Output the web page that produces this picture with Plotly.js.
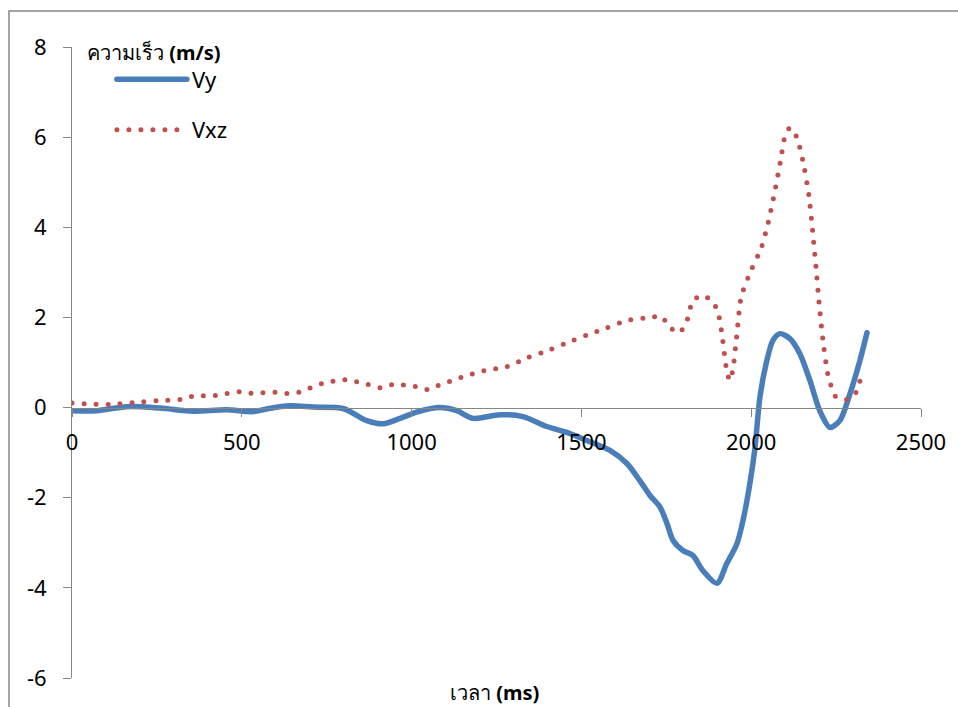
<!DOCTYPE html>
<html>
<head>
<meta charset="utf-8">
<script src="https://cdn.plot.ly/plotly-3.0.1.min.js"></script>
<style>
html, body { margin: 0; padding: 0; background: #fff; }
#chart { width: 958px; height: 707px; }
path.js-line { stroke-linecap: round; }
</style>
</head>
<body>
<div id="chart"></div>
<script>
// Vy series (time in ms, velocity in m/s)
const vyTime = [0, 73, 161, 259, 356, 455, 533, 573, 642, 710, 798, 868, 916, 966, 1015, 1083, 1133, 1181, 1260, 1328, 1398, 1457, 1516, 1584, 1634, 1672, 1702, 1731, 1752, 1770, 1799, 1828, 1858, 1899, 1928, 1958, 1976, 1996, 2011, 2026, 2046, 2064, 2085, 2114, 2143, 2173, 2202, 2232, 2261, 2291, 2320, 2341];
const vyValue = [-0.07, -0.07, 0.02, -0.01, -0.08, -0.05, -0.09, -0.03, 0.04, 0.01, -0.02, -0.29, -0.36, -0.24, -0.1, 0.0, -0.07, -0.24, -0.16, -0.2, -0.42, -0.55, -0.73, -0.95, -1.24, -1.62, -1.95, -2.2, -2.57, -2.95, -3.17, -3.28, -3.62, -3.9, -3.46, -3.02, -2.5, -1.69, -0.9, 0.25, 1.04, 1.49, 1.64, 1.53, 1.2, 0.6, -0.07, -0.44, -0.29, 0.31, 1.04, 1.66];

// Vxz series
const vxzTime = [0, 109, 179, 249, 320, 354, 423, 493, 527, 598, 633, 668, 736, 804, 872, 907, 942, 1010, 1045, 1078, 1146, 1213, 1281, 1343, 1410, 1475, 1520, 1569, 1634, 1704, 1737, 1757, 1787, 1808, 1828, 1855, 1884, 1902, 1914, 1928, 1937, 1946, 1958, 1970, 1993, 2030, 2050, 2067, 2087, 2099, 2114, 2134, 2152, 2170, 2191, 2200, 2211, 2226, 2249, 2282, 2308, 2329];
const vxzValue = [0.1, 0.07, 0.11, 0.15, 0.18, 0.25, 0.27, 0.35, 0.32, 0.34, 0.31, 0.34, 0.53, 0.62, 0.51, 0.44, 0.51, 0.47, 0.4, 0.49, 0.67, 0.82, 0.91, 1.11, 1.29, 1.49, 1.62, 1.75, 1.93, 2.0, 2.02, 1.8, 1.66, 1.86, 2.37, 2.49, 2.37, 2.13, 1.62, 0.82, 0.6, 0.84, 1.64, 2.44, 2.93, 3.55, 4.1, 4.7, 5.5, 6.01, 6.21, 6.0, 5.48, 4.7, 3.1, 2.31, 1.51, 0.73, 0.24, 0.18, 0.33, 0.84];

const seriesNames = ['Vy', 'Vxz'];
const xTicks = [0, 500, 1000, 1500, 2000, 2500];
const yTicks = [-6, -4, -2, 0, 2, 4, 6, 8];
const yTitle = 'ความเร็ว <b>(m/s)</b>';
const xTitle = 'เวลา <b>(ms)</b>';

const FONT = 'Noto Sans, Open Sans, DejaVu Sans, sans-serif';
const AXIS_COLOR = '#868686';

const traces = [
  {
    x: vyTime, y: vyValue, name: seriesNames[0], mode: 'lines', legendgroup: 'a',
    line: { color: '#4a7ebb', width: 5.5, shape: 'spline', smoothing: 0.8 }
  },
  {
    x: vxzTime, y: vxzValue, name: seriesNames[1], mode: 'lines', legendgroup: 'b',
    line: { color: '#c0504d', width: 5, dash: '0px,12px', shape: 'spline', smoothing: 0.6 }
  }
];

const layout = {
  width: 958, height: 707,
  margin: { l: 72, r: 37, t: 47, b: 29 },
  paper_bgcolor: '#ffffff', plot_bgcolor: 'rgba(0,0,0,0)',
  font: { family: FONT, size: 22, color: '#000' },
  showlegend: true,
  legend: {
    x: 0.047, y: 0.982, xanchor: 'left', yanchor: 'top',
    bgcolor: 'rgba(0,0,0,0)', itemwidth: 70, traceorder: 'grouped', tracegroupgap: 19,
    font: { family: FONT, size: 22, color: '#000' }
  },
  xaxis: {
    range: [0, 2500], tickvals: xTicks, ticktext: xTicks.map(String),
    showgrid: false, zeroline: false, showline: true, linecolor: AXIS_COLOR, linewidth: 1,
    ticks: 'outside', ticklen: 8, tickcolor: AXIS_COLOR, tickwidth: 1,
    anchor: 'free', position: 6 / 14, ticklabelstandoff: 7,
    tickfont: { family: FONT, size: 22, color: '#000' }
  },
  yaxis: {
    range: [-6, 8], tickvals: yTicks, ticktext: yTicks.map(String),
    showgrid: false, zeroline: false, showline: true, linecolor: AXIS_COLOR, linewidth: 1,
    ticks: 'outside', ticklen: 8, tickcolor: AXIS_COLOR, tickwidth: 1, ticklabelstandoff: 12,
    tickfont: { family: FONT, size: 22, color: '#000' }
  },
  annotations: [
    { text: yTitle, xref: 'paper', yref: 'paper', x: 13 / 849, y: (678 - 53) / 631,
      xanchor: 'left', yanchor: 'middle', showarrow: false, font: { family: FONT, size: 20, color: '#000' } },
    { text: xTitle, xref: 'paper', yref: 'paper', x: (494 - 72) / 849, y: (678 - 692) / 631,
      xanchor: 'center', yanchor: 'middle', showarrow: false, font: { family: FONT, size: 20, color: '#000' } }
  ],
  shapes: [
    { type: 'rect', xref: 'paper', yref: 'paper', x0: (9 - 72) / 849, x1: 1.2, y0: -0.2, y1: (678 - 11) / 631,
      line: { color: AXIS_COLOR, width: 1.5 }, fillcolor: 'rgba(0,0,0,0)', layer: 'below' }
  ]
};

Plotly.newPlot('chart', traces, layout, { staticPlot: true, displayModeBar: false });
</script>
</body>
</html>
